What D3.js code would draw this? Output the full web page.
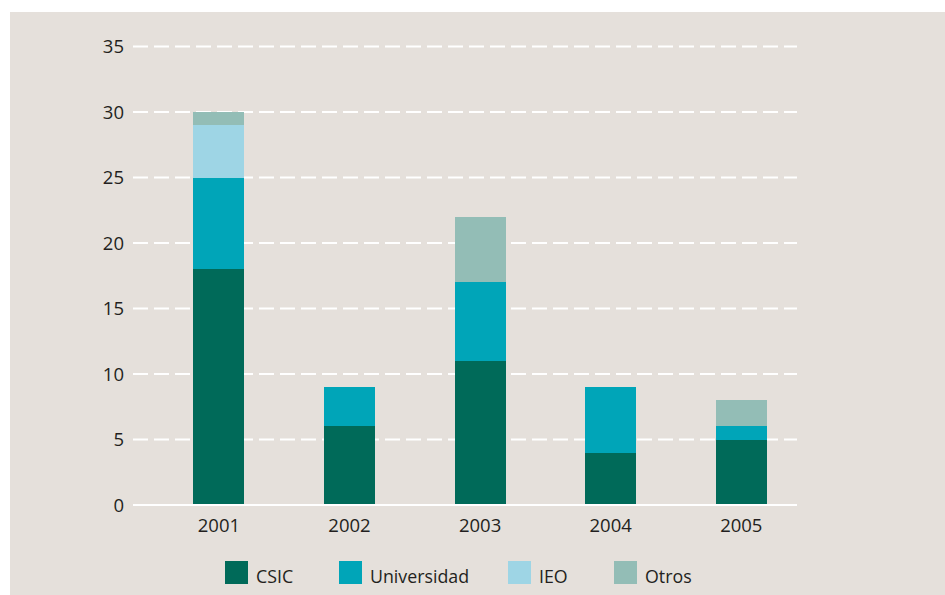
<!DOCTYPE html>
<html>
<head>
<meta charset="utf-8">
<script src="https://cdn.jsdelivr.net/npm/d3@7"></script>
<style>
  body { margin: 0; background: #fff; }
  text { font-family: "Open Sans", "Noto Sans", sans-serif; fill: #231f20; }
</style>
</head>
<body>
<svg id="chart" width="945" height="595"></svg>
<script>
// data
var years = ["2001", "2002", "2003", "2004", "2005"];
var seriesNames = ["CSIC", "Universidad", "IEO", "Otros"];
var csic = [18, 6, 11, 4, 5];
var universidad = [7, 3, 6, 5, 1];
var ieo = [4, 0, 0, 0, 0];
var otros = [1, 0, 5, 0, 2];
var yTicks = [0, 5, 10, 15, 20, 25, 30, 35];

var colors = ["#006a59", "#00a5b8", "#9ed5e5", "#93bdb6"];

var rows = years.map(function(y, i) {
  return { year: y, CSIC: csic[i], Universidad: universidad[i], IEO: ieo[i], Otros: otros[i] };
});

var svg = d3.select("#chart");

// background panel
svg.append("rect")
  .attr("x", 10).attr("y", 12)
  .attr("width", 935).attr("height", 583)
  .attr("fill", "#e5e0db");

var left = 133, right = 797, bottom = 505;

var y = d3.scaleLinear().domain([0, 35]).range([bottom, 46.5]);
var x = d3.scaleBand()
  .domain(years)
  .range([153.6, 806.6])
  .paddingInner(0.61)
  .paddingOuter(0.305);

// grid lines
svg.append("g").selectAll("line")
  .data(yTicks.filter(function(d) { return d > 0; }))
  .enter().append("line")
    .attr("x1", left).attr("x2", right)
    .attr("y1", function(d) { return y(d); })
    .attr("y2", function(d) { return y(d); })
    .attr("stroke", "#fff")
    .attr("stroke-width", 2)
    .attr("stroke-dasharray", "15,6");

// y labels
svg.append("g").selectAll("text")
  .data(yTicks)
  .enter().append("text")
    .attr("x", 124)
    .attr("y", function(d) { return y(d); })
    .attr("dy", "0.36em")
    .attr("text-anchor", "end")
    .style("font-size", "18.5px")
    .text(function(d) { return d; });

// stacked bars
var stack = d3.stack().keys(seriesNames)(rows);
svg.append("g").selectAll("g")
  .data(stack)
  .enter().append("g")
    .attr("fill", function(d, i) { return colors[i]; })
  .selectAll("rect")
  .data(function(d) { return d; })
  .enter().append("rect")
    .attr("x", function(d) { return x(d.data.year); })
    .attr("y", function(d) { return y(d[1]); })
    .attr("width", x.bandwidth())
    .attr("height", function(d) { return y(d[0]) - y(d[1]); })
    .attr("shape-rendering", "crispEdges");

// baseline
svg.append("line")
  .attr("x1", left).attr("x2", right)
  .attr("y1", y(0)).attr("y2", y(0))
  .attr("stroke", "#fff")
  .attr("stroke-width", 2);

// x labels
svg.append("g").selectAll("text")
  .data(years)
  .enter().append("text")
    .attr("x", function(d) { return x(d) + x.bandwidth() / 2; })
    .attr("y", 531.5)
    .attr("text-anchor", "middle")
    .style("font-size", "18.5px")
    .text(function(d) { return d; });

// legend
var legendX = [225, 339, 508, 614];
var legend = svg.append("g").selectAll("g")
  .data(seriesNames)
  .enter().append("g")
    .attr("transform", function(d, i) { return "translate(" + legendX[i] + ",561)"; });
legend.append("rect")
  .attr("width", 23).attr("height", 23)
  .attr("fill", function(d, i) { return colors[i]; });
legend.append("text")
  .attr("x", 31).attr("y", 22)
  .style("font-size", "17.8px")
  .text(function(d) { return d; });
</script>
</body>
</html>
